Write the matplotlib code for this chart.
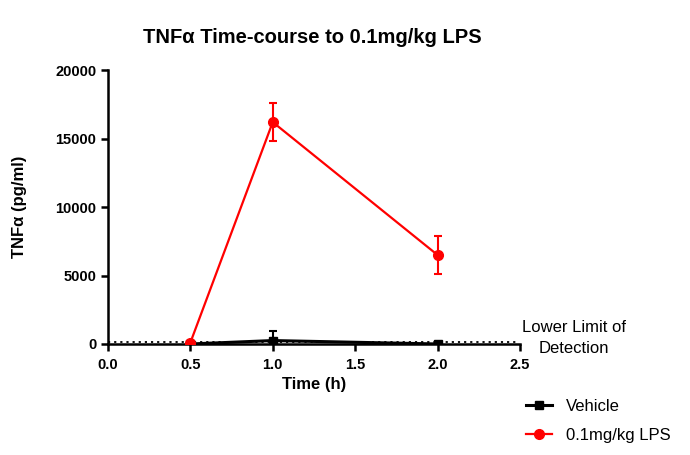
import matplotlib
matplotlib.use("Agg")
import matplotlib.pyplot as plt
from matplotlib.lines import Line2D

plt.rcParams['font.family'] = ['Liberation Sans', 'DejaVu Sans']

# ── data ──────────────────────────────────────────────
time_h = [0.5, 1.0, 2.0]
vehicle_mean = [0, 250, 0]
vehicle_err = [0, 700, 0]
lps_mean = [100, 16200, 6500]
lps_err = [0, 1400, 1400]
llod = 150

fig = plt.figure(figsize=(6.9, 4.55), dpi=100)
ax = fig.add_axes([0.1565, 0.244, 0.597, 0.602])

ax.errorbar(time_h, vehicle_mean, yerr=[[0] * 3, vehicle_err], color="black",
            marker="s", markersize=6, linewidth=2.2, capsize=3, capthick=1.5,
            elinewidth=1.5, label="Vehicle", zorder=3)
ax.errorbar(time_h, lps_mean, yerr=lps_err, color="#ff0000",
            marker="o", markersize=7, linewidth=1.6, capsize=3, capthick=1.5,
            elinewidth=1.5, label="0.1mg/kg LPS", zorder=4)
ax.axhline(llod, color="black", linestyle=(0, (1.2, 2.2)), linewidth=1.3,
           xmin=0, xmax=0.99, clip_on=False, zorder=2)

ax.set_xlim(0, 2.5)
ax.set_ylim(0, 20000)
ax.set_xticks([0.0, 0.5, 1.0, 1.5, 2.0, 2.5])
ax.set_xticklabels(["0.0", "0.5", "1.0", "1.5", "2.0", "2.5"])
ax.set_yticks([0, 5000, 10000, 15000, 20000])

for s in ["top", "right"]:
    ax.spines[s].set_visible(False)
for s in ["left", "bottom"]:
    ax.spines[s].set_linewidth(1.8)
ax.tick_params(direction="out", length=5, width=1.8, labelsize=10.5)
ax.tick_params(axis="x", pad=5)
for lbl in ax.get_xticklabels() + ax.get_yticklabels():
    lbl.set_fontweight("bold")

ax.set_xlabel("Time (h)", fontsize=12, fontweight="bold", labelpad=4)
ax.set_ylabel("TNFα (pg/ml)", fontsize=12, fontweight="bold", labelpad=20)
fig.text(0.453, 0.918, "TNFα Time-course to 0.1mg/kg LPS", ha="center", va="center",
         fontsize=14.5, fontweight="bold")

ax.text(2.83, 0.022 * 20000, "Lower Limit of\nDetection", ha="center", va="center",
        fontsize=12, clip_on=False, linespacing=1.45)

handles = [
    Line2D([], [], color="black", marker="s", markersize=6, linewidth=2.2),
    Line2D([], [], color="#ff0000", marker="o", markersize=7, linewidth=1.6),
]
fig.legend(handles, ["Vehicle", "0.1mg/kg LPS"], loc="upper left",
           bbox_to_anchor=(0.757, 0.131), frameon=False, fontsize=12,
           handlelength=1.6, handletextpad=0.8, labelspacing=0.85,
           borderaxespad=0, borderpad=0.2)

fig.savefig("out.png", dpi=100)
